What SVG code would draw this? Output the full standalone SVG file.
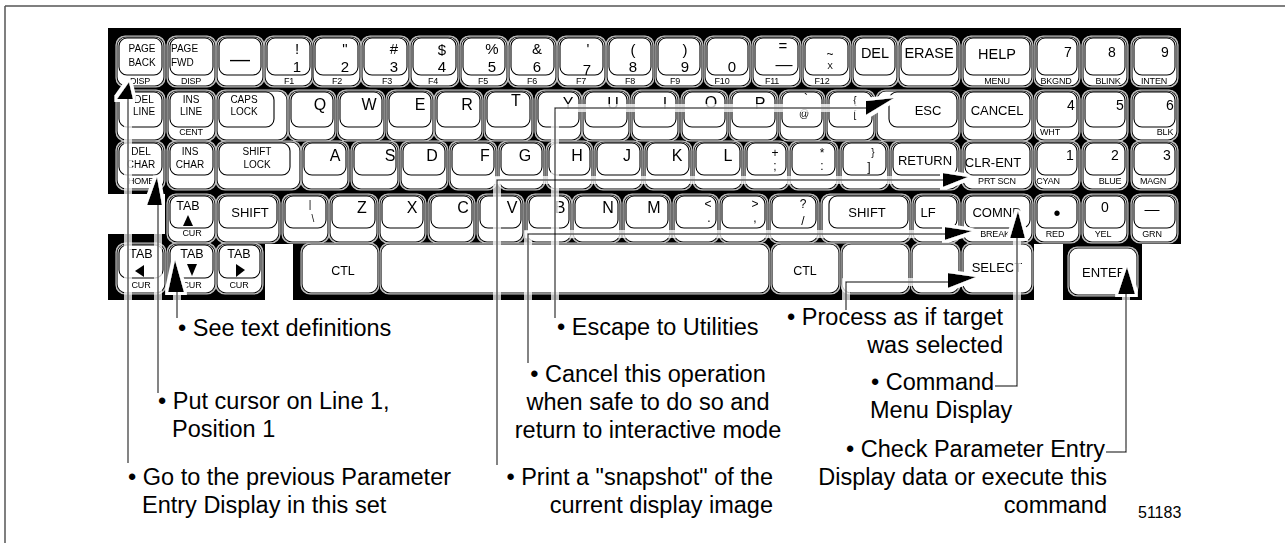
<svg xmlns="http://www.w3.org/2000/svg" width="1285" height="543" viewBox="0 0 1285 543">
<defs>
<style>
text{font-family:"Liberation Sans",Arial,Helvetica,sans-serif;fill:#000}
.k text{text-anchor:middle}
.k .st{text-anchor:start}
.b{fill:#fff;stroke:#000;stroke-width:1.1px;rx:9px;ry:9px}
.c{fill:#fff;stroke:#000;stroke-width:1.1px;rx:8px;ry:8px}
.t10{font-size:10px}
.t9{font-size:9px;letter-spacing:-0.2px}
.t8{font-size:8.5px}
.t12{font-size:12.5px}
.w{font-size:13px}
.w2{font-size:14.5px}
.L{font-size:16px}
.D{font-size:15px}
.N{font-size:14px}
.y{font-size:12px}
.em{font-size:20px}
.em2{font-size:17px}
.a{font-size:23.5px}
.mid{text-anchor:middle}
.end{text-anchor:end}
.frame{fill:none;stroke:#555;stroke-width:1.5}
.ln{fill:none;stroke:#000;stroke-width:1.5}
.tri{fill:#000}
</style>
<filter id="ring" filterUnits="userSpaceOnUse" x="0" y="0" width="1285" height="543">
<feMorphology in="SourceAlpha" operator="dilate" radius="1.3" result="d"/>
<feFlood flood-color="#c4c4c4"/>
<feComposite in2="d" operator="in" result="r"/>
<feMerge><feMergeNode in="r"/><feMergeNode in="SourceGraphic"/></feMerge>
</filter>
<filter id="halo" filterUnits="userSpaceOnUse" x="0" y="0" width="1285" height="543">
<feMorphology in="SourceAlpha" operator="dilate" radius="2.8" result="d"/>
<feFlood flood-color="#fff"/>
<feComposite in2="d" operator="in" result="r"/>
<feMerge><feMergeNode in="r"/><feMergeNode in="SourceGraphic"/></feMerge>
</filter>
</defs>
<rect width="1285" height="543" fill="#fff"/>
<path class="frame" d="M5,6 H1285 M5,6 V543"/>
<path id="keyboard-bg" fill="#000" d="M108,28 H1181 V244 H1142 V300 H1063 V244 H1034 V300 H293 V244 H265 V300 H108 V234 H165 V194 H108 Z"/>
<g id="keys" filter="url(#ring)">
<!-- Row 1 -->
<g id="k-page-back" class="k"><rect class="b" x="117" y="37" width="47" height="49"/><rect class="c" x="119" y="38" width="43" height="37"/><text class="t10" x="142" y="52">PAGE</text><text class="t10" x="142" y="66">BACK</text><text class="t9" x="140" y="84">DISP</text></g>
<g id="k-page-fwd" class="k"><rect class="b" x="168" y="37" width="47" height="49"/><rect class="c" x="170" y="38" width="43" height="37"/><text class="t10 st" x="171" y="52">PAGE</text><text class="t10 st" x="171" y="66">FWD</text><text class="t9" x="191" y="84">DISP</text></g>
<g id="k-dash" class="k"><rect class="b" x="217" y="37" width="46" height="49"/><rect class="c" x="219" y="38" width="42" height="37"/><text class="em" x="240" y="66">—</text></g>
<g id="k-1" class="k"><rect class="b" x="265" y="37" width="47" height="49"/><rect class="c" x="267" y="38" width="43" height="37"/><text class="D" x="297" y="54">!</text><text class="D" x="297" y="72">1</text><text class="t9" x="289" y="84">F1</text></g>
<g id="k-2" class="k"><rect class="b" x="313" y="37" width="47" height="49"/><rect class="c" x="315" y="38" width="43" height="37"/><text class="D" x="345" y="54">&quot;</text><text class="D" x="345" y="72">2</text><text class="t9" x="337" y="84">F2</text></g>
<g id="k-3" class="k"><rect class="b" x="362" y="37" width="47" height="49"/><rect class="c" x="364" y="38" width="43" height="37"/><text class="D" x="394" y="54">#</text><text class="D" x="394" y="72">3</text><text class="t9" x="387" y="84">F3</text></g>
<g id="k-4" class="k"><rect class="b" x="411" y="37" width="47" height="49"/><rect class="c" x="413" y="38" width="43" height="37"/><text class="D" x="442" y="55">$</text><text class="D" x="442" y="72">4</text><text class="t9" x="433" y="84">F4</text></g>
<g id="k-5" class="k"><rect class="b" x="461" y="37" width="46" height="49"/><rect class="c" x="463" y="38" width="42" height="37"/><text class="D" x="492" y="54">%</text><text class="D" x="492" y="72">5</text><text class="t9" x="483" y="84">F5</text></g>
<g id="k-6" class="k"><rect class="b" x="509" y="37" width="47" height="49"/><rect class="c" x="511" y="38" width="43" height="37"/><text class="D" x="537" y="54">&amp;</text><text class="D" x="537" y="72">6</text><text class="t9" x="532" y="84">F6</text></g>
<g id="k-7" class="k"><rect class="b" x="558" y="37" width="47" height="49"/><rect class="c" x="560" y="38" width="43" height="37"/><text class="D" x="588" y="54">'</text><text class="D" x="587" y="75">7</text><text class="t9" x="581" y="84">F7</text></g>
<g id="k-8" class="k"><rect class="b" x="607" y="37" width="46" height="49"/><rect class="c" x="609" y="38" width="42" height="37"/><text class="D" x="633" y="55">(</text><text class="D" x="633" y="72">8</text><text class="t9" x="630" y="84">F8</text></g>
<g id="k-9" class="k"><rect class="b" x="656" y="37" width="46" height="49"/><rect class="c" x="658" y="38" width="42" height="37"/><text class="D" x="685" y="55">)</text><text class="D" x="685" y="72">9</text><text class="t9" x="675" y="84">F9</text></g>
<g id="k-0" class="k"><rect class="b" x="705" y="37" width="45" height="49"/><rect class="c" x="707" y="38" width="41" height="37"/><text class="D" x="732" y="72">0</text><text class="t9" x="722" y="84">F10</text></g>
<g id="k-eq" class="k"><rect class="b" x="753" y="37" width="47" height="49"/><rect class="c" x="755" y="38" width="43" height="37"/><text class="D" x="783" y="51">=</text><text class="em2" x="784" y="70">—</text><text class="t9" x="772" y="84">F11</text></g>
<g id="k-tilde" class="k"><rect class="b" x="803" y="37" width="47" height="49"/><rect class="c" x="805" y="38" width="43" height="37"/><text class="y" x="830" y="58">~</text><text class="t8" x="830" y="69">X</text><text class="t9" x="822" y="84">F12</text></g>
<g id="k-del" class="k"><rect class="b" x="853" y="37" width="44" height="49"/><rect class="c" x="855" y="38" width="40" height="37"/><text class="w2" x="875" y="58">DEL</text></g>
<g id="k-erase" class="k"><rect class="b" x="899" y="37" width="60" height="49"/><rect class="c" x="901" y="38" width="56" height="37"/><text class="w2" x="929" y="58">ERASE</text></g>
<g id="k-help" class="k"><rect class="b" x="963" y="37" width="69" height="49"/><rect class="c" x="965" y="38" width="65" height="37"/><text class="w2" x="997" y="59">HELP</text><text class="t9" x="997" y="84">MENU</text></g>
<g id="k-np7" class="k"><rect class="b" x="1035" y="37" width="44" height="49"/><rect class="c" x="1037" y="38" width="40" height="37"/><text class="N" x="1068" y="57">7</text><text class="t9" x="1056" y="84">BKGND</text></g>
<g id="k-np8" class="k"><rect class="b" x="1083" y="37" width="44" height="49"/><rect class="c" x="1085" y="38" width="40" height="37"/><text class="N" x="1112" y="57">8</text><text class="t9" x="1108" y="84">BLINK</text></g>
<g id="k-np9" class="k"><rect class="b" x="1132" y="37" width="45" height="49"/><rect class="c" x="1134" y="38" width="41" height="37"/><text class="N" x="1165" y="57">9</text><text class="t9" x="1154" y="84">INTEN</text></g>
<!-- Row 2 -->
<g id="k-del-line" class="k"><rect class="b" x="117" y="91" width="47" height="49"/><rect class="c" x="119" y="92" width="43" height="35"/><text class="t10" x="144" y="103">DEL</text><text class="t10" x="144" y="115">LINE</text></g>
<g id="k-ins-line" class="k"><rect class="b" x="168" y="91" width="47" height="49"/><rect class="c" x="170" y="92" width="43" height="35"/><text class="t10" x="191" y="103">INS</text><text class="t10" x="191" y="115">LINE</text><text class="t9" x="191" y="135">CENT</text></g>
<g id="k-caps" class="k"><rect class="b" x="217" y="91" width="70" height="49"/><rect class="c" x="219" y="92" width="55" height="35"/><text class="t10" x="244" y="103">CAPS</text><text class="t10" x="244" y="115">LOCK</text></g>
<g id="k-q" class="k"><rect class="b" x="289" y="91" width="46" height="49"/><rect class="c" x="291" y="92" width="42" height="35"/><text class="L" x="320" y="110">Q</text></g>
<g id="k-w" class="k"><rect class="b" x="338" y="91" width="46" height="49"/><rect class="c" x="340" y="92" width="42" height="35"/><text class="L" x="369" y="110">W</text></g>
<g id="k-e" class="k"><rect class="b" x="387" y="91" width="46" height="49"/><rect class="c" x="389" y="92" width="42" height="35"/><text class="L" x="420" y="110">E</text></g>
<g id="k-r" class="k"><rect class="b" x="435" y="91" width="47" height="49"/><rect class="c" x="437" y="92" width="43" height="35"/><text class="L" x="467" y="110">R</text></g>
<g id="k-t" class="k"><rect class="b" x="485" y="91" width="47" height="49"/><rect class="c" x="487" y="92" width="43" height="35"/><text class="L" x="516" y="106">T</text></g>
<g id="k-y" class="k"><rect class="b" x="536" y="91" width="45" height="49"/><rect class="c" x="538" y="92" width="41" height="35"/><text class="L" x="568" y="109">Y</text></g>
<g id="k-u" class="k"><rect class="b" x="583" y="91" width="46" height="49"/><rect class="c" x="585" y="92" width="42" height="35"/><text class="L" x="613" y="109">U</text></g>
<g id="k-i" class="k"><rect class="b" x="632" y="91" width="46" height="49"/><rect class="c" x="634" y="92" width="42" height="35"/><text class="L" x="665" y="109">I</text></g>
<g id="k-o" class="k"><rect class="b" x="682" y="91" width="45" height="49"/><rect class="c" x="684" y="92" width="41" height="35"/><text class="L" x="711" y="108">O</text></g>
<g id="k-p" class="k"><rect class="b" x="730" y="91" width="47" height="49"/><rect class="c" x="732" y="92" width="43" height="35"/><text class="L" x="760" y="109">P</text></g>
<g id="k-at" class="k"><rect class="b" x="780" y="91" width="44" height="49"/><rect class="c" x="782" y="92" width="40" height="35"/><text class="y" x="806" y="103">`</text><text class="t10" x="804" y="117">@</text></g>
<g id="k-brace" class="k"><rect class="b" x="827" y="91" width="47" height="49"/><rect class="c" x="829" y="92" width="43" height="35"/><text class="t10" x="855" y="104">{</text><text class="t10" x="855" y="118">[</text></g>
<g id="k-esc" class="k"><rect class="b" x="877" y="91" width="82" height="49"/><rect class="c" x="889" y="92" width="68" height="35"/><text class="w" x="928" y="115">ESC</text></g>
<g id="k-cancel" class="k"><rect class="b" x="963" y="91" width="69" height="49"/><rect class="c" x="965" y="92" width="65" height="35"/><text class="w" x="997" y="115">CANCEL</text></g>
<g id="k-np4" class="k"><rect class="b" x="1035" y="91" width="44" height="49"/><rect class="c" x="1037" y="92" width="40" height="35"/><text class="N" x="1071" y="110">4</text><text class="t9" x="1050" y="135">WHT</text></g>
<g id="k-np5" class="k"><rect class="b" x="1083" y="91" width="44" height="49"/><rect class="c" x="1085" y="92" width="40" height="35"/><text class="N" x="1120" y="110">5</text></g>
<g id="k-np6" class="k"><rect class="b" x="1132" y="91" width="45" height="49"/><rect class="c" x="1134" y="92" width="41" height="35"/><text class="N" x="1170" y="110">6</text><text class="t9" x="1165" y="135">BLK</text></g>
<!-- Row 3 -->
<g id="k-del-char" class="k"><rect class="b" x="117" y="142" width="47" height="47"/><rect class="c" x="119" y="143" width="43" height="32"/><text class="t10" x="141" y="155">DEL</text><text class="t10" x="141" y="168">CHAR</text><text class="t9" x="141" y="184">HOME</text></g>
<g id="k-ins-char" class="k"><rect class="b" x="168" y="142" width="47" height="47"/><rect class="c" x="170" y="143" width="43" height="32"/><text class="t10" x="190" y="155">INS</text><text class="t10" x="190" y="168">CHAR</text></g>
<g id="k-shift-lock" class="k"><rect class="b" x="217" y="142" width="83" height="47"/><rect class="c" x="219" y="143" width="71" height="32"/><text class="t10" x="257" y="155">SHIFT</text><text class="t10" x="257" y="168">LOCK</text></g>
<g id="k-a" class="k"><rect class="b" x="302" y="142" width="46" height="47"/><rect class="c" x="304" y="143" width="42" height="32"/><text class="L" x="335" y="161">A</text></g>
<g id="k-s" class="k"><rect class="b" x="352" y="142" width="46" height="47"/><rect class="c" x="354" y="143" width="42" height="32"/><text class="L" x="390" y="161">S</text></g>
<g id="k-d" class="k"><rect class="b" x="401" y="142" width="46" height="47"/><rect class="c" x="403" y="143" width="42" height="32"/><text class="L" x="432" y="161">D</text></g>
<g id="k-f" class="k"><rect class="b" x="450" y="142" width="46" height="47"/><rect class="c" x="452" y="143" width="42" height="32"/><text class="L" x="485" y="161">F</text></g>
<g id="k-g" class="k"><rect class="b" x="499" y="142" width="45" height="47"/><rect class="c" x="501" y="143" width="41" height="32"/><text class="L" x="525" y="161">G</text></g>
<g id="k-h" class="k"><rect class="b" x="547" y="142" width="45" height="47"/><rect class="c" x="549" y="143" width="41" height="32"/><text class="L" x="577" y="161">H</text></g>
<g id="k-j" class="k"><rect class="b" x="595" y="142" width="47" height="47"/><rect class="c" x="597" y="143" width="43" height="32"/><text class="L" x="627" y="161">J</text></g>
<g id="k-k" class="k"><rect class="b" x="645" y="142" width="46" height="47"/><rect class="c" x="647" y="143" width="42" height="32"/><text class="L" x="677" y="161">K</text></g>
<g id="k-l" class="k"><rect class="b" x="694" y="142" width="48" height="47"/><rect class="c" x="696" y="143" width="44" height="32"/><text class="L" x="728" y="161">L</text></g>
<g id="k-semi" class="k"><rect class="b" x="745" y="142" width="43" height="47"/><rect class="c" x="747" y="143" width="39" height="32"/><text class="y" x="775" y="157">+</text><text class="y" x="775" y="170">;</text></g>
<g id="k-colon" class="k"><rect class="b" x="790" y="142" width="47" height="47"/><rect class="c" x="792" y="143" width="43" height="32"/><text class="y" x="822" y="157">*</text><text class="y" x="822" y="170">:</text></g>
<g id="k-bracket" class="k"><rect class="b" x="841" y="142" width="47" height="47"/><rect class="c" x="843" y="143" width="43" height="32"/><text class="t10" x="873" y="156">}</text><text class="y" x="869" y="171">]</text></g>
<g id="k-return" class="k"><rect class="b" x="891" y="142" width="68" height="47"/><rect class="c" x="893" y="143" width="64" height="32"/><text class="w" x="925" y="165">RETURN</text></g>
<g id="k-clr-ent" class="k"><rect class="b" x="963" y="142" width="69" height="47"/><rect class="c" x="965" y="143" width="65" height="32"/><text class="w" x="993" y="167">CLR-ENT</text><text class="t9" x="997" y="184">PRT SCN</text></g>
<g id="k-np1" class="k"><rect class="b" x="1035" y="142" width="44" height="47"/><rect class="c" x="1037" y="143" width="40" height="32"/><text class="N" x="1070" y="160">1</text><text class="t9" x="1048" y="184">CYAN</text></g>
<g id="k-np2" class="k"><rect class="b" x="1083" y="142" width="44" height="47"/><rect class="c" x="1085" y="143" width="40" height="32"/><text class="N" x="1115" y="160">2</text><text class="t9" x="1110" y="184">BLUE</text></g>
<g id="k-np3" class="k"><rect class="b" x="1132" y="142" width="45" height="47"/><rect class="c" x="1134" y="143" width="41" height="32"/><text class="N" x="1167" y="160">3</text><text class="t9" x="1153" y="184">MAGN</text></g>
<!-- Row 4 -->
<g id="k-tab-up" class="k"><rect class="b" x="168" y="195" width="47" height="47"/><rect class="c" x="170" y="196" width="43" height="32"/><text class="t12" x="188" y="210">TAB</text><polygon class="tri" points="188,215 183,226 193,226"/><text class="t9" x="192" y="236">CUR</text></g>
<g id="k-shift-l" class="k"><rect class="b" x="217" y="195" width="62" height="47"/><rect class="c" x="219" y="196" width="58" height="32"/><text class="w" x="250" y="217">SHIFT</text></g>
<g id="k-bslash" class="k"><rect class="b" x="283" y="195" width="45" height="47"/><rect class="c" x="285" y="196" width="41" height="32"/><text class="t10" x="310" y="208">|</text><text class="t10" x="313" y="222">\</text></g>
<g id="k-z" class="k"><rect class="b" x="330" y="195" width="47" height="47"/><rect class="c" x="332" y="196" width="43" height="32"/><text class="L" x="362" y="213">Z</text></g>
<g id="k-x" class="k"><rect class="b" x="380" y="195" width="45" height="47"/><rect class="c" x="382" y="196" width="41" height="32"/><text class="L" x="412" y="213">X</text></g>
<g id="k-c" class="k"><rect class="b" x="429" y="195" width="45" height="47"/><rect class="c" x="431" y="196" width="41" height="32"/><text class="L" x="463" y="213">C</text></g>
<g id="k-v" class="k"><rect class="b" x="478" y="195" width="45" height="47"/><rect class="c" x="480" y="196" width="41" height="32"/><text class="L" x="512" y="213">V</text></g>
<g id="k-b" class="k"><rect class="b" x="527" y="195" width="44" height="47"/><rect class="c" x="529" y="196" width="40" height="32"/><text class="L" x="560" y="213">B</text></g>
<g id="k-n" class="k"><rect class="b" x="573" y="195" width="47" height="47"/><rect class="c" x="575" y="196" width="43" height="32"/><text class="L" x="608" y="213">N</text></g>
<g id="k-m" class="k"><rect class="b" x="624" y="195" width="46" height="47"/><rect class="c" x="626" y="196" width="42" height="32"/><text class="L" x="654" y="213">M</text></g>
<g id="k-lt" class="k"><rect class="b" x="674" y="195" width="44" height="47"/><rect class="c" x="676" y="196" width="40" height="32"/><text class="y" x="708" y="208">&lt;</text><text class="y" x="709" y="222">.</text></g>
<g id="k-gt" class="k"><rect class="b" x="720" y="195" width="47" height="47"/><rect class="c" x="722" y="196" width="43" height="32"/><text class="y" x="755" y="208">&gt;</text><text class="y" x="755" y="222">,</text></g>
<g id="k-slash" class="k"><rect class="b" x="770" y="195" width="48" height="47"/><rect class="c" x="772" y="196" width="44" height="32"/><text class="y" x="803" y="208">?</text><text class="y" x="803" y="225">/</text></g>
<g id="k-shift-r" class="k"><rect class="b" x="822" y="195" width="88" height="47"/><rect class="c" x="829" y="196" width="79" height="32"/><text class="w" x="867" y="217">SHIFT</text></g>
<g id="k-lf" class="k"><rect class="b" x="913" y="195" width="46" height="47"/><rect class="c" x="915" y="196" width="42" height="32"/><text class="w" x="928" y="217">LF</text></g>
<g id="k-comnd" class="k"><rect class="b" x="963" y="195" width="69" height="47"/><rect class="c" x="965" y="196" width="65" height="32"/><text class="w" x="997" y="217">COMND</text><text class="t9" x="995" y="237">BREAK</text></g>
<g id="k-np-dot" class="k"><rect class="b" x="1035" y="195" width="44" height="47"/><rect class="c" x="1037" y="196" width="40" height="32"/><text class="em" x="1057" y="220">•</text><text class="t9" x="1055" y="237">RED</text></g>
<g id="k-np0" class="k"><rect class="b" x="1083" y="195" width="44" height="47"/><rect class="c" x="1085" y="196" width="40" height="32"/><text class="N" x="1105" y="212">0</text><text class="t9" x="1103" y="237">YEL</text></g>
<g id="k-np-dash" class="k"><rect class="b" x="1132" y="195" width="45" height="47"/><rect class="c" x="1134" y="196" width="41" height="32"/><text class="D" x="1152" y="214">—</text><text class="t9" x="1152" y="237">GRN</text></g>
<!-- Row 5 -->
<g id="k-tab-left" class="k"><rect class="b" x="117" y="244" width="48" height="49"/><rect class="c" x="119" y="245" width="44" height="33"/><text class="t12" x="141" y="258">TAB</text><polygon class="tri" points="135,271 144,265 144,277"/><text class="t9" x="141" y="288">CUR</text></g>
<g id="k-tab-down" class="k"><rect class="b" x="168" y="244" width="47" height="49"/><rect class="c" x="170" y="245" width="43" height="33"/><text class="t12" x="192" y="258">TAB</text><polygon class="tri" points="187,264 197,264 192,276"/><text class="t9" x="192" y="288">CUR</text></g>
<g id="k-tab-right" class="k"><rect class="b" x="217" y="244" width="45" height="49"/><rect class="c" x="219" y="245" width="41" height="33"/><text class="t12" x="239" y="258">TAB</text><polygon class="tri" points="236,264 236,277 245,270"/><text class="t9" x="239" y="288">CUR</text></g>
<g id="k-ctl-l" class="k"><rect class="b" x="302" y="244" width="76" height="49"/><text class="t12" x="343" y="275">CTL</text></g>
<g id="k-space" class="k"><rect class="b" x="381" y="244" width="388" height="49"/></g>
<g id="k-ctl-r" class="k"><rect class="b" x="772" y="244" width="67" height="49"/><text class="t12" x="805" y="275">CTL</text></g>
<g id="k-blank1" class="k"><rect class="b" x="842" y="244" width="67" height="49"/></g>
<g id="k-blank2" class="k"><rect class="b" x="912" y="244" width="47" height="49"/></g>
<g id="k-select" class="k"><rect class="b" x="963" y="244" width="69" height="49"/><text class="w" x="997" y="272">SELECT</text></g>
<g id="k-enter" class="k"><rect class="b" x="1069" y="248" width="68" height="47"/><text class="w" x="1104" y="277">ENTER</text></g>
</g>
<g id="connectors" filter="url(#halo)">
<path class="ln" d="M128,463 V98"/>
<polygon class="tri" points="129,82 117,99 133,99"/>
<path class="ln" d="M158,393 V204"/>
<polygon class="tri" points="157,177 147,205 162,205"/>
<path class="ln" d="M177,318 V291"/>
<polygon class="tri" points="175,260 168,292 184,292"/>
<path class="ln" d="M555,318 V108 H868"/>
<polygon class="tri" points="866,101 894,98 866,115"/>
<path class="ln" d="M497,465 V180 H945"/>
<polygon class="tri" points="943,173 968,177 943,187"/>
<path class="ln" d="M528,363 V234 H946"/>
<polygon class="tri" points="945,227 972,231 945,240"/>
<path class="ln" d="M846,310 V282 H949"/>
<polygon class="tri" points="948,273 976,277 948,288"/>
<path class="ln" d="M995,386 H1017 V237"/>
<polygon class="tri" points="1018,211 1010,238 1025,238"/>
<path class="ln" d="M1106,452 H1126 V293"/>
<polygon class="tri" points="1127,267 1118,294 1135,294"/>
</g>
<g id="labels">
<text class="a" x="178" y="336">• See text definitions</text>
<text class="a" x="158" y="409">• Put cursor on Line 1,</text>
<text class="a" x="172" y="437">Position 1</text>
<text class="a" x="128" y="485">• Go to the previous Parameter</text>
<text class="a" x="142" y="513">Entry Display in this set</text>
<text class="a" x="557" y="335">• Escape to Utilities</text>
<text class="a mid" x="648" y="382">• Cancel this operation</text>
<text class="a mid" x="648" y="410">when safe to do so and</text>
<text class="a mid" x="648" y="438">return to interactive mode</text>
<text class="a end" x="773" y="485">• Print a &quot;snapshot&quot; of the</text>
<text class="a end" x="773" y="513">current display image</text>
<text class="a end" x="1003" y="325">• Process as if target</text>
<text class="a end" x="1003" y="353">was selected</text>
<text class="a" x="871" y="390">• Command</text>
<text class="a" x="870" y="418">Menu Display</text>
<text class="a end" x="1105" y="457">• Check Parameter Entry</text>
<text class="a end" x="1107" y="485">Display data or execute this</text>
<text class="a end" x="1107" y="513">command</text>
<text x="1138" y="518" style="font-size:16px">51183</text>
</g>
</svg>
